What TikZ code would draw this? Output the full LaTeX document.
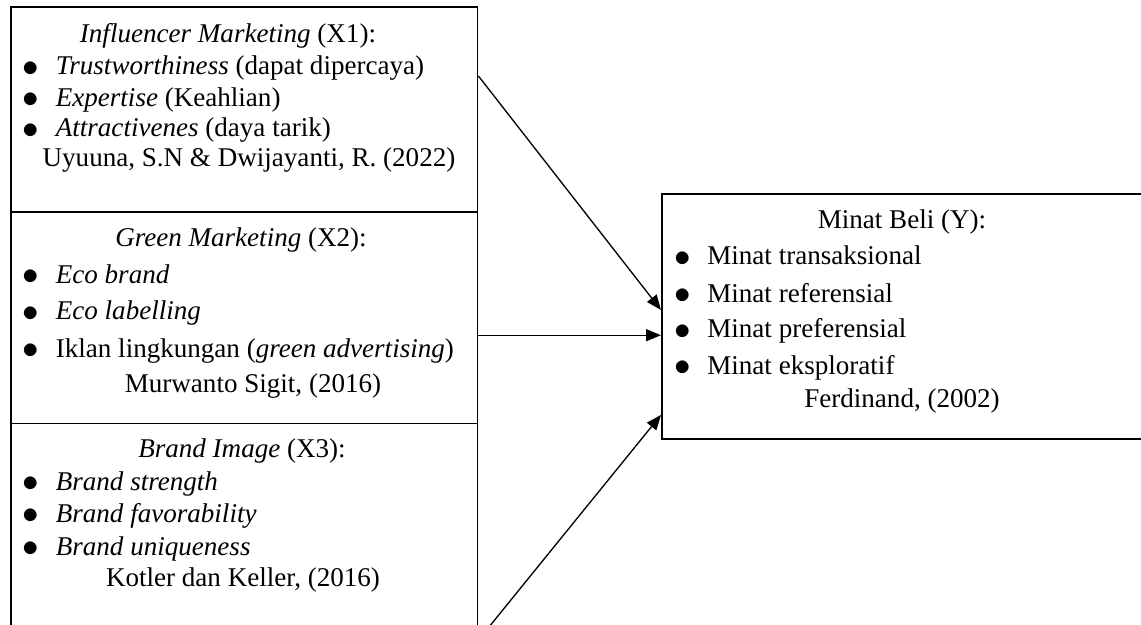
\documentclass[tikz,border=0pt]{standalone}
\usepackage{fontspec}
\setmainfont{LiberationSerif}[Extension=.ttf, UprightFont=*-Regular,
  ItalicFont=*-Italic, BoldFont=*-Bold]
\usetikzlibrary{arrows.meta,positioning,calc}
\newcommand{\dotitem}{\makebox[0.70cm][l]{\hspace{0.04cm}\raisebox{-0.04em}{\scalebox{1.3}{$\bullet$}}}}

\begin{document}
\begin{tikzpicture}[x=1cm, y=1cm, font=\fontsize{15.4}{18}\selectfont,
  box/.style={draw, line width=1.1pt, anchor=north west, inner sep=0pt},
  line/.style={anchor=base, inner sep=0pt},
  item/.style={anchor=base west, inner sep=0pt},
  arr/.style={line width=0.75pt, -{Triangle[length=0.3cm, width=0.24cm]}}]
\useasboundingbox (0,0) rectangle (22.82,-12.5);
\clip (0,0) rectangle (22.82,-12.5);
\node[box, minimum width=9.33cm, minimum height=4.09cm] (x1) at (0.2,-0.13) {};
\node[box, minimum width=9.33cm, minimum height=4.23cm] (x2) at (0.2,-4.22) {};
\node[box, minimum width=9.33cm, minimum height=4.85cm] (x3) at (0.2,-8.45) {};
\node[box, minimum width=10cm, minimum height=4.9cm] (y) at (13.22,-3.86) {};

\node[line] (t1) at (4.56,-0.86) {\textit{Influencer Marketing} (X1):};
\foreach \y/\t [count=\i] in {1.50/{\textit{Trustworthiness} (dapat dipercaya)},
    2.13/{\textit{Expertise} (Keahlian)}, 2.74/{\textit{Attractivenes} (daya tarik)}}
  \node[item] (p1\i) at (0.41,-\y) {\dotitem\t};
\node[line] (r1) at (4.98,-3.32) {Uyuuna, S.N \& Dwijayanti, R. (2022)};

\node[line] (t2) at (4.82,-4.94) {\textit{Green Marketing} (X2):};
\foreach \y/\t [count=\i] in {5.66/{\textit{Eco brand}}, 6.40/{\textit{Eco labelling}},
    7.14/{Iklan lingkungan (\textit{green advertising})}}
  \node[item] (p2\i) at (0.41,-\y) {\dotitem\t};
\node[line] (r2) at (5.06,-7.84) {Murwanto Sigit, (2016)};

\node[line] (t3) at (4.84,-9.14) {\textit{Brand Image} (X3):};
\foreach \y/\t [count=\i] in {9.80/{\textit{Brand strength}}, 10.44/{\textit{Brand favorability}},
    11.10/{\textit{Brand uniqueness}}}
  \node[item] (p3\i) at (0.41,-\y) {\dotitem\t};
\node[line] (r3) at (4.86,-11.72) {Kotler dan Keller, (2016)};

\node[line] (t4) at (18.04,-4.58) {Minat Beli (Y):};
\foreach \y/\t [count=\i] in {5.30/{Minat transaksional}, 6.04/{Minat referensial},
    6.76/{Minat preferensial}, 7.48/{Minat eksploratif}}
  \node[item] (p4\i) at (13.44,-\y) {\dotitem\t};
\node[line] (r4) at (18.04,-8.14) {Ferdinand, (2002)};

\draw[arr] ($(x1.north east)+(0,-1.39)$) -- ($(y.north west)+(0,-2.34)$);
\coordinate (m) at ($(x2.east)+(0,-0.35)$);
\draw[arr] (m) -- (m -| y.west);
\draw[arr] ($(x3.north east)+(0,-4.35)$) -- ($(y.south west)+(0,0.5)$);
\end{tikzpicture}
\end{document}
